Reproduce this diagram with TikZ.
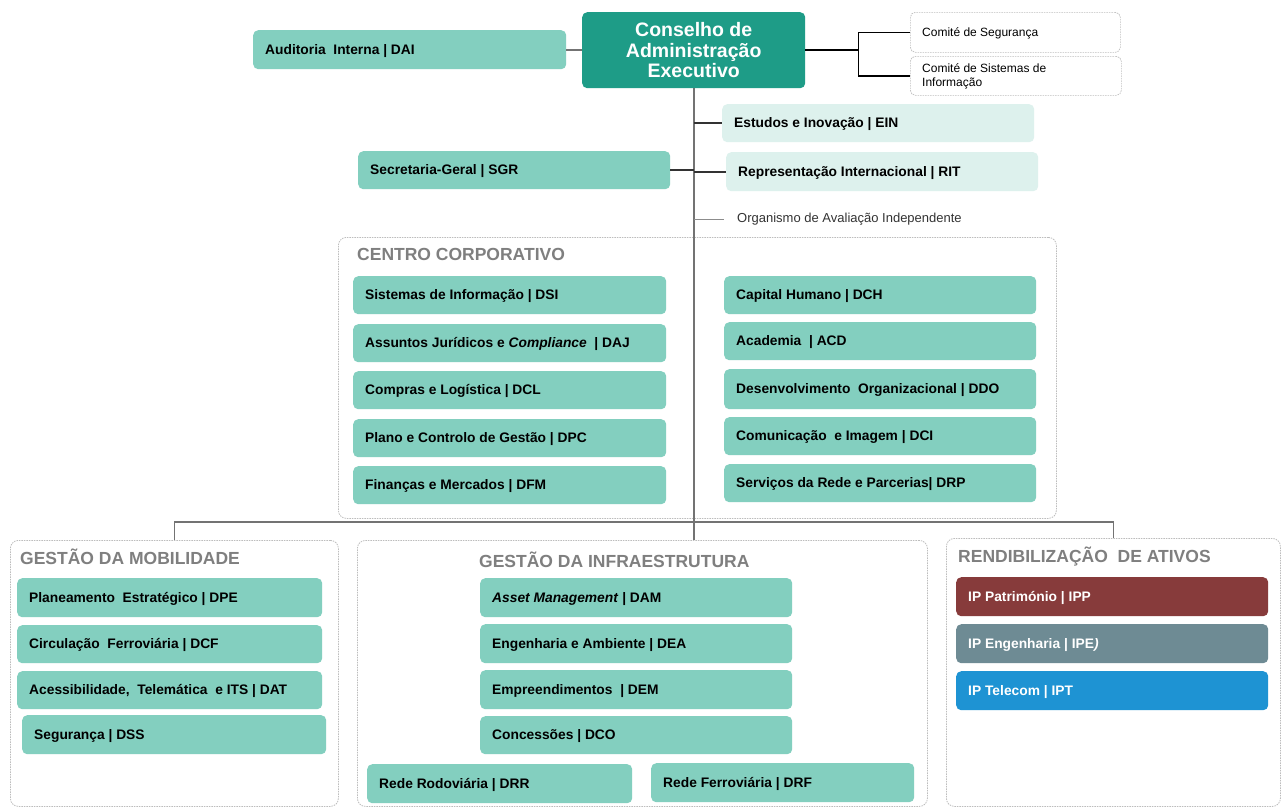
\documentclass[tikz,border=0pt]{standalone}
\usepackage{fontspec}
\setmainfont{Liberation Sans}
\definecolor{tealmid}{HTML}{83CFBF}
\definecolor{tealdark}{HTML}{1E9C87}
\definecolor{teallight}{HTML}{DDF1ED}
\definecolor{dashgray}{HTML}{BDBDBD}
\definecolor{titlegray}{HTML}{7F7F7F}
\definecolor{ippc}{HTML}{873B3B}
\definecolor{ipec}{HTML}{6E8B94}
\definecolor{iptc}{HTML}{1E93D3}
\tikzset{
  base/.style={rounded corners=5pt, draw=none, inner sep=0pt},
  mid/.style={base, fill=tealmid},
  midtxt/.style={font=\bfseries\fontsize{13.8}{16}\selectfont, text=black, inner sep=0pt, yshift=-1.2pt},
  light/.style={base, fill=teallight},
  lighttxt/.style={midtxt},
  ipp/.style={base, fill=ippc},
  ipptxt/.style={midtxt, text=white},
  ipe/.style={base, fill=ipec},
  ipetxt/.style={midtxt, text=white},
  ipt/.style={base, fill=iptc},
  ipttxt/.style={midtxt, text=white},
  cmt/.style={base, draw=dashgray, line width=0.7pt, dash pattern=on 1.5pt off 1pt, fill=white},
  cmttxt/.style={font=\fontsize{12}{14}\selectfont, align=left, inner sep=0pt, yshift=-1pt},
  cont/.style={rounded corners=8pt, draw=dashgray, line width=0.8pt, dash pattern=on 1.5pt off 1pt, fill=white, inner sep=0pt},
  ttl/.style={font=\bfseries\fontsize{17.5}{20}\selectfont, text=titlegray, anchor=west, inner sep=0pt, yshift=-1pt},
  conn/.style={line width=2pt, draw=#1},
}
\newcommand\bx[7]{%
  \node[#6, anchor=north west, minimum width={(#4-#2)*1pt}, minimum height={(#5-#3)*1pt}] (#1) at (#2,#3) {};
  \node[#6txt, anchor=west] at ([xshift=12pt]#1.west) {#7};}
\newcommand\ct[5]{%
  \node[cont, anchor=north west, minimum width={(#4-#2)*1pt}, minimum height={(#5-#3)*1pt}] (#1) at (#2,#3) {};}
\begin{document}
\begin{tikzpicture}[x=1pt, y=-1pt]
\useasboundingbox[fill=white] (0,0) rectangle (1283,809);

% containers
\ct{cc}{338}{237}{1056}{518}
\ct{mobc}{10}{540}{338}{806}
\ct{infc}{357}{540}{927}{806}
\ct{renc}{946}{538}{1280}{806}

% top
\node[base, fill=tealdark, anchor=north west, minimum width=223pt, minimum height=76pt,
      text=white, font=\bfseries\fontsize{19.5}{20.5}\selectfont, align=center] (cons) at (582,12)
      {Conselho de\\Administração\\Executivo};
\bx{aud}{253}{30}{566}{69}{mid}{Auditoria\ \ Interna | DAI}
\bx{seg}{910}{12}{1120}{52}{cmt}{Comité de Segurança}
\bx{sist}{910}{56}{1121}{95}{cmt}{Comité de Sistemas de\\Informação}

\bx{ein}{722}{104}{1034}{142}{light}{Estudos e Inovação | EIN}
\bx{rit}{726}{152}{1038}{191}{light}{Representação Internacional | RIT}
\bx{sgr}{358}{151}{670}{189}{mid}{Secretaria-Geral | SGR}
\node[anchor=west, inner sep=0pt, font=\fontsize{13}{15}\selectfont, text=black!80, yshift=-1.5pt] (org) at (737,218) {Organismo de Avaliação Independente};

% centro corporativo
\node[ttl] (cctitle) at (357,253) {CENTRO CORPORATIVO};
\bx{dsi}{353}{276}{666}{314}{mid}{Sistemas de Informação | DSI}
\bx{daj}{353}{324}{666}{362}{mid}{Assuntos Jurídicos e \textit{Compliance} \ | DAJ}
\bx{dcl}{353}{371}{666}{409}{mid}{Compras e Logística | DCL}
\bx{dpc}{353}{419}{666}{457}{mid}{Plano e Controlo de Gestão | DPC}
\bx{dfm}{353}{466}{666}{504}{mid}{Finanças e Mercados | DFM}
\bx{dch}{724}{276}{1036}{314}{mid}{Capital Humano | DCH}
\bx{acd}{724}{322}{1036}{360}{mid}{Academia \ | ACD}
\bx{ddo}{724}{369}{1036}{409}{mid}{Desenvolvimento\ \ Organizacional | DDO}
\bx{dci}{724}{417}{1036}{455}{mid}{Comunicação\ \ e Imagem | DCI}
\bx{drp}{724}{464}{1036}{502}{mid}{Serviços da Rede e Parcerias| DRP}

% mobilidade
\node[ttl] (mobt) at (20,556) {GESTÃO DA MOBILIDADE};
\bx{dpe}{17}{578}{322}{617}{mid}{Planeamento\ \ Estratégico | DPE}
\bx{dcf}{17}{625}{322}{663}{mid}{Circulação\ \ Ferroviária | DCF}
\bx{dat}{17}{671}{322}{709}{mid}{Acessibilidade,\ \ Telemática\ \ e ITS | DAT}
\bx{dss}{22}{715}{326}{754}{mid}{Segurança | DSS}

% infraestrutura
\node[ttl] (inft) at (479,559) {GESTÃO DA INFRAESTRUTURA};
\bx{dam}{480}{578}{792}{617}{mid}{\textit{Asset Management} | DAM}
\bx{dea}{480}{624}{792}{663}{mid}{Engenharia e Ambiente | DEA}
\bx{dem}{480}{670}{792}{709}{mid}{Empreendimentos \ | DEM}
\bx{dco}{480}{716}{792}{754}{mid}{Concessões | DCO}
\bx{drr}{367}{764}{632}{803}{mid}{Rede Rodoviária | DRR}
\bx{drf}{651}{763}{914}{802}{mid}{Rede Ferroviária | DRF}

% rendibilizacao
\node[ttl] (rent) at (958,556) {RENDIBILIZAÇÃO\ \ DE ATIVOS};
\bx{ippb}{956}{577}{1268}{616}{ipp}{IP Património | IPP}
\bx{ipeb}{956}{624}{1268}{663}{ipe}{IP Engenharia | IPE\textit{)}}
\bx{iptb}{956}{671}{1268}{710}{ipt}{IP Telecom | IPT}

% connectors
\coordinate (fork) at ([xshift=53pt]cons.east);
\draw[conn=black!55] (aud.east) -- (aud.east -| cons.west);
\draw[line width=1.5pt, black] (cons.east) -- (fork);
\draw[line width=1.5pt, black] (fork |- seg.west) -- (fork |- sist.west);
\draw[line width=1.5pt, black] (fork |- seg.west) -- (seg.west);
\draw[line width=1.5pt, black] (fork |- sist.west) -- (sist.west);
\coordinate (tend) at (cons.south |- infc.north);
\draw[conn=black!55] (cons.south) -- (tend);
\draw[conn=black!80] (ein.west -| cons.south) -- (ein.west);
\draw[conn=black!80] (rit.west -| cons.south) -- (rit.west);
\draw[conn=black!80] (sgr.east) -- (sgr.east -| cons.south);
\draw[line width=1.3pt, black!45] (org.west -| cons.south) -- ([xshift=-13pt]org.west);
\draw[line width=1.5pt, black!55] (mobc.north) -- ++(0,-18) -| (renc.north);
\end{tikzpicture}
\end{document}
